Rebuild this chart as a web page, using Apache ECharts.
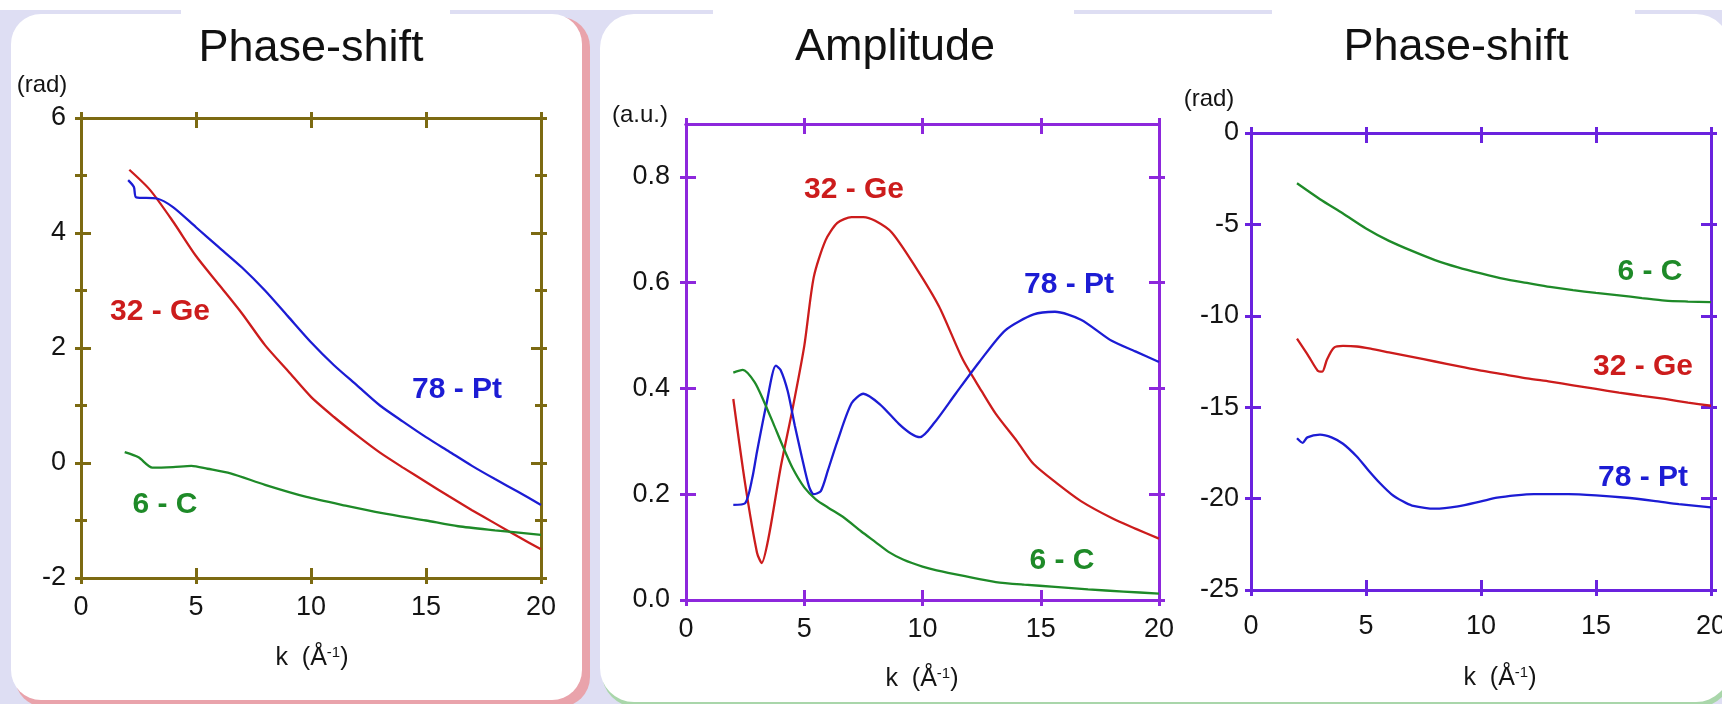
<!DOCTYPE html>
<html>
<head>
<meta charset="utf-8">
<title>Phase-shift / Amplitude</title>
<script src="https://cdn.jsdelivr.net/npm/echarts@6.0.0/dist/echarts.min.js"></script>
<style>
    html, body {margin: 0; padding: 0; background: #fff;}
    #main {width: 1722px; height: 704px;}
</style>
</head>
<body>
<div id="main"></div>
<script>
// ---- data ----
// left panel: phase-shift (rad)
const phaseGeK = [2.1, 3.0, 4.0, 5.0, 6.0, 7.0, 8.0, 9.0, 10.0, 11.0, 12.0, 13.0, 14.0, 15.0, 16.0, 17.0, 18.0, 19.0, 20.0];
const phaseGe = [5.1, 4.75, 4.2, 3.6, 3.1, 2.6, 2.05, 1.6, 1.15, 0.8, 0.48, 0.18, -0.08, -0.33, -0.58, -0.82, -1.05, -1.28, -1.5];
const phasePtK = [2.05, 2.3, 2.4, 3.3, 4.0, 5.0, 6.0, 7.0, 8.0, 9.0, 10.0, 11.0, 12.0, 13.0, 14.0, 15.0, 16.0, 17.0, 18.0, 19.0, 20.0];
const phasePt = [4.92, 4.8, 4.62, 4.6, 4.45, 4.1, 3.75, 3.4, 3.0, 2.55, 2.1, 1.7, 1.35, 1.0, 0.72, 0.45, 0.2, -0.05, -0.28, -0.5, -0.73];
const phaseCK = [1.9, 2.5, 3.1, 4.0, 4.8, 5.5, 6.5, 8.0, 9.8, 11.5, 13.1, 15.0, 16.4, 18.0, 20.0];
const phaseC = [0.19, 0.1, -0.08, -0.07, -0.05, -0.1, -0.18, -0.38, -0.59, -0.74, -0.87, -1.0, -1.1, -1.17, -1.25];

// middle panel: amplitude (a.u.)
const ampGeK = [2.0, 2.5, 3.0, 3.2, 3.5, 4.0, 4.5, 5.0, 5.4, 5.9, 6.4, 7.0, 7.5, 8.0, 8.7, 9.7, 10.7, 11.7, 12.5, 13.1, 14.0, 14.7, 15.7, 16.7, 18.0, 19.0, 20.0];
const ampGe = [0.38, 0.22, 0.09, 0.07, 0.12, 0.25, 0.36, 0.48, 0.61, 0.68, 0.713, 0.724, 0.724, 0.717, 0.695, 0.63, 0.555, 0.455, 0.395, 0.352, 0.3, 0.257, 0.22, 0.187, 0.155, 0.135, 0.116];
const ampPtK = [2.0, 2.5, 2.8, 3.0, 3.4, 3.8, 4.0, 4.3, 4.6, 4.9, 5.2, 5.4, 5.7, 6.0, 6.4, 7.0, 7.5, 8.2, 9.0, 9.5, 9.9, 10.5, 11.4, 12.4, 13.5, 14.7, 15.6, 16.7, 18.0, 19.0, 20.0];
const ampPt = [0.18, 0.183, 0.23, 0.28, 0.37, 0.443, 0.435, 0.395, 0.33, 0.27, 0.215, 0.2, 0.206, 0.245, 0.3, 0.372, 0.39, 0.37, 0.333, 0.315, 0.308, 0.335, 0.39, 0.45, 0.51, 0.54, 0.545, 0.53, 0.49, 0.47, 0.45];
const ampCK = [2.0, 2.4, 2.9, 3.3, 3.7, 4.1, 4.5, 5.0, 5.5, 6.0, 6.7, 7.4, 8.0, 8.6, 9.2, 10.0, 10.6, 11.8, 13.1, 14.3, 15.6, 17.0, 18.5, 20.0];
const ampC = [0.43, 0.435, 0.412, 0.375, 0.333, 0.29, 0.25, 0.213, 0.19, 0.175, 0.155, 0.13, 0.11, 0.09, 0.076, 0.063, 0.056, 0.045, 0.034, 0.029, 0.025, 0.02, 0.016, 0.012];

// right panel: phase-shift (rad)
const shiftCK = [2.0, 3.0, 4.0, 5.0, 6.0, 7.0, 8.0, 9.0, 10.0, 11.0, 12.0, 13.0, 14.0, 15.0, 16.0, 17.0, 18.0, 19.0, 20.0];
const shiftC = [-2.75, -3.62, -4.4, -5.22, -5.9, -6.45, -6.95, -7.35, -7.68, -7.98, -8.2, -8.42, -8.6, -8.75, -8.88, -9.03, -9.17, -9.22, -9.25];
const shiftGeK = [2.0, 2.5, 2.9, 3.1, 3.3, 3.6, 4.0, 4.6, 5.2, 6.0, 7.0, 8.0, 9.0, 10.0, 11.0, 12.0, 13.0, 14.0, 15.0, 16.0, 17.0, 18.0, 19.0, 20.0];
const shiftGe = [-11.25, -12.2, -13.0, -13.05, -12.4, -11.75, -11.65, -11.68, -11.8, -12.0, -12.25, -12.5, -12.75, -13.0, -13.2, -13.42, -13.6, -13.8, -14.0, -14.2, -14.38, -14.55, -14.75, -14.92];
const shiftPtK = [2.0, 2.25, 2.45, 3.0, 3.5, 4.0, 4.6, 5.1, 5.6, 6.1, 6.6, 7.0, 8.0, 9.0, 10.0, 10.7, 11.5, 12.3, 13.8, 15.0, 16.2, 17.5, 18.6, 20.0];
const shiftPt = [-16.7, -16.95, -16.65, -16.5, -16.65, -17.0, -17.7, -18.45, -19.15, -19.75, -20.15, -20.38, -20.55, -20.42, -20.15, -19.95, -19.82, -19.75, -19.75, -19.82, -19.94, -20.12, -20.3, -20.48];

const ampTicks = [0, 0.2, 0.4, 0.6, 0.8];

const RED = '#cc1c1c',
    BLUE = '#1c1cd4',
    GREEN = '#1e8a28',
    OLIVE = '#7c6a12',
    VIOLET = '#8d27dc',
    INDIGO = '#6a22de';

const FONT = '"Liberation Sans", Arial, sans-serif';

function zip(xs, ys) {
    return xs.map((x, i) => [x, ys[i]]);
}

// one frame side = two axes on the same line, ticks out and ticks in
function frameAxes(dim, gridIndex, color, base, labelOpt) {
    const sides = dim === 'x' ? ['bottom', 'top'] : ['left', 'right'];
    let list = [];
    sides.forEach((pos, si) => {
        [false, true].forEach((inside) => {
            const ax = Object.assign({
                type: 'value',
                gridIndex: gridIndex,
                position: pos,
                splitLine: {show: false},
                axisLine: {show: true, onZero: false, lineStyle: {color: color, width: 3}},
                axisTick: {show: true, inside: inside, length: inside ? 10 : 6, lineStyle: {color: color, width: 3}},
                axisLabel: {show: false}
            }, base);
            if (base.minorTick) {
                ax.minorTick = Object.assign({}, base.minorTick, {lineStyle: {color: color, width: 3}});
            }
            if (base.tickValues) {
                ax.axisTick.customValues = base.tickValues;
            }
            if (si === 0 && !inside && labelOpt) {
                ax.axisLabel = Object.assign({
                    show: true,
                    color: '#141414',
                    fontFamily: FONT,
                    fontSize: 27
                }, labelOpt);
            }
            delete ax.tickValues;
            list.push(ax);
        });
    });
    return list;
}

function lineSeries(name, gi, color, data) {
    return {
        name: name,
        type: 'line',
        xAxisIndex: gi * 4,
        yAxisIndex: gi * 4,
        data: data,
        showSymbol: false,
        smooth: 0.25,
        lineStyle: {color: color, width: 2.3},
        emphasis: {disabled: true},
        z: 3
    };
}

function txt(x, y, text, size, color, bold, extra) {
    return {
        type: 'text',
        x: x,
        y: y,
        z: 50,
        style: Object.assign({
            text: text,
            fill: color,
            font: (bold ? 'bold ' : '') + size + 'px ' + FONT,
            align: 'center',
            verticalAlign: 'middle'
        }, extra || {})
    };
}

function kName(x, y) {
    return txt(x, y, 'k  (Å{sup|-1})', 25, '#141414', false, {
        rich: {sup: {fontSize: 15, verticalAlign: 'top', fill: '#141414', fontFamily: FONT}}
    });
}

const kBase = {min: 0, max: 20, interval: 5};

let xAxes = []
    .concat(frameAxes('x', 0, OLIVE, kBase, {margin: 16}))
    .concat(frameAxes('x', 1, VIOLET, kBase, {margin: 16}))
    .concat(frameAxes('x', 2, INDIGO, kBase, {margin: 23}));

let yAxes = []
    .concat(frameAxes('y', 0, OLIVE, {
        min: -2, max: 6, interval: 2,
        minorTick: {show: true, splitNumber: 2, length: 6}
    }, {margin: 15}))
    .concat(frameAxes('y', 1, VIOLET, {
        min: 0, max: 0.9, interval: 0.2, tickValues: ampTicks
    }, {margin: 16, customValues: ampTicks, formatter: (v) => v.toFixed(1)}))
    .concat(frameAxes('y', 2, INDIGO, {min: -25, max: 0, interval: 5}, {margin: 12}));

const background = [
    // panel cards
    {type: 'rect', z: -10, shape: {x: 15, y: 17, width: 575, height: 690, r: 30}, style: {fill: '#e9a3ab'}},
    {type: 'rect', z: -9, shape: {x: 11, y: 14, width: 571, height: 686, r: 30}, style: {fill: '#ffffff'}},
    {type: 'rect', z: -10, shape: {x: 602, y: 17, width: 1130, height: 690, r: 34}, style: {fill: '#a9d6aa'}},
    {type: 'rect', z: -9, shape: {x: 600, y: 14, width: 1130, height: 688, r: 34}, style: {fill: '#ffffff'}},
    // white band over the top and the title tabs
    {type: 'rect', z: -8, shape: {x: 0, y: 0, width: 1722, height: 10}, style: {fill: '#ffffff'}},
    {type: 'rect', z: -8, shape: {x: 181, y: 0, width: 269, height: 16}, style: {fill: '#ffffff'}},
    {type: 'rect', z: -8, shape: {x: 713, y: 0, width: 361, height: 16}, style: {fill: '#ffffff'}},
    {type: 'rect', z: -8, shape: {x: 1272, y: 0, width: 363, height: 16}, style: {fill: '#ffffff'}}
];

const labels = [
    txt(311, 49, 'Phase-shift', 45, '#111', false),
    txt(895, 48, 'Amplitude', 45, '#111', false),
    txt(1456, 48, 'Phase-shift', 45, '#111', false),

    txt(42, 85, '(rad)', 24, '#141414', false),
    txt(640, 115, '(a.u.)', 24, '#141414', false),
    txt(1209, 99, '(rad)', 24, '#141414', false),

    kName(312, 658),
    kName(922, 679),
    kName(1500, 678),

    txt(160, 312, '32 - Ge', 30, RED, true),
    txt(457, 390, '78 - Pt', 30, BLUE, true),
    txt(165, 505, '6 - C', 30, GREEN, true),

    txt(854, 190, '32 - Ge', 30, RED, true),
    txt(1069, 285, '78 - Pt', 30, BLUE, true),
    txt(1062, 561, '6 - C', 30, GREEN, true),

    txt(1650, 272, '6 - C', 30, GREEN, true),
    txt(1643, 367, '32 - Ge', 30, RED, true),
    txt(1643, 478, '78 - Pt', 30, BLUE, true)
];

const option = {
    backgroundColor: '#dedef3',
    animation: false,
    grid: [
        {left: 81, top: 118, width: 460, height: 460, outerBoundsMode: 'none', containLabel: false},
        {left: 686, top: 124, width: 473, height: 476, outerBoundsMode: 'none', containLabel: false},
        {left: 1251, top: 133, width: 460, height: 457, outerBoundsMode: 'none', containLabel: false}
    ],
    xAxis: xAxes,
    yAxis: yAxes,
    graphic: background.concat(labels),
    series: [
        lineSeries('Ge', 0, RED, zip(phaseGeK, phaseGe)),
        lineSeries('Pt', 0, BLUE, zip(phasePtK, phasePt)),
        lineSeries('C', 0, GREEN, zip(phaseCK, phaseC)),
        lineSeries('Ge', 1, RED, zip(ampGeK, ampGe)),
        lineSeries('Pt', 1, BLUE, zip(ampPtK, ampPt)),
        lineSeries('C', 1, GREEN, zip(ampCK, ampC)),
        lineSeries('C', 2, GREEN, zip(shiftCK, shiftC)),
        lineSeries('Ge', 2, RED, zip(shiftGeK, shiftGe)),
        lineSeries('Pt', 2, BLUE, zip(shiftPtK, shiftPt))
    ]
};

const chart = echarts.init(document.getElementById('main'));
chart.setOption(option);
</script>
</body>
</html>
